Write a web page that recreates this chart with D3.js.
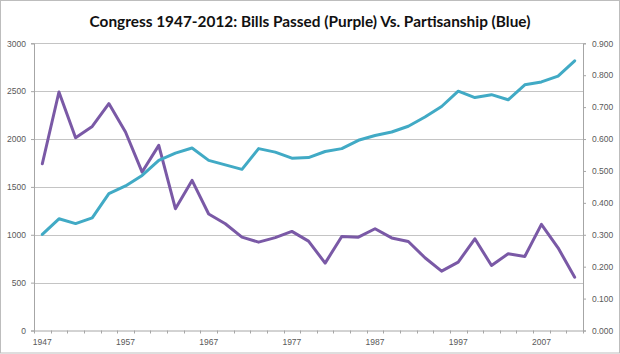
<!DOCTYPE html>
<html>
<head>
<meta charset="utf-8">
<script src="https://cdn.jsdelivr.net/npm/d3@7"></script>
<style>
  body { margin: 0; background: #fff; }
  svg { display: block; }
  .tick text { font-family: "Liberation Sans", Arial, sans-serif; font-size: 8.5px; fill: #595959; }
</style>
</head>
<body>
<div id="chart"></div>
<script>
const years = [1947, 1949, 1951, 1953, 1955, 1957, 1959, 1961, 1963, 1965, 1967,
  1969, 1971, 1973, 1975, 1977, 1979, 1981, 1983, 1985, 1987, 1989, 1991,
  1993, 1995, 1997, 1999, 2001, 2003, 2005, 2007, 2009, 2011];
const billsPassed = [1742, 2491, 2014, 2132, 2370, 2073, 1655, 1934, 1272, 1568, 1217,
  1115, 975, 923, 970, 1035, 934, 704, 982, 975, 1063, 967, 930,
  760, 620, 714, 958, 679, 801, 773, 1108, 864, 557];
const partisanship = [0.301, 0.350, 0.335, 0.353, 0.429, 0.453, 0.486, 0.533, 0.556, 0.572, 0.533,
  0.519, 0.505, 0.570, 0.559, 0.540, 0.542, 0.561, 0.570, 0.596, 0.611, 0.622, 0.640,
  0.669, 0.702, 0.750, 0.730, 0.739, 0.723, 0.770, 0.779, 0.797, 0.845];
const labelYears = [1947, 1957, 1967, 1977, 1987, 1997, 2007];
const leftTicks = [0, 500, 1000, 1500, 2000, 2500, 3000];
const rightTicks = [0, 0.1, 0.2, 0.3, 0.4, 0.5, 0.6, 0.7, 0.8, 0.9];
const title = "Congress 1947-2012: Bills Passed (Purple) Vs. Partisanship (Blue)";

const W = 620, H = 354;
const plot = { left: 34, right: 583, top: 43.3, bottom: 330.5 };

const svg = d3.select("#chart").append("svg")
  .attr("width", W)
  .attr("height", H);

svg.append("rect")
  .attr("x", 0.5).attr("y", 0.5)
  .attr("width", W - 1).attr("height", H - 1.5)
  .attr("fill", "#fff")
  .attr("stroke", "#bdbdbd");

const x = d3.scaleBand()
  .domain(years)
  .range([plot.left, plot.right]);

const yLeft = d3.scaleLinear()
  .domain([0, 3000])
  .range([plot.bottom, plot.top]);

const yRight = d3.scaleLinear()
  .domain([0, 0.9])
  .range([plot.bottom, plot.top]);

// gridlines
svg.append("g")
  .selectAll("line")
  .data(leftTicks.filter(d => d > 0))
  .enter().append("line")
  .attr("x1", plot.left).attr("x2", plot.right)
  .attr("y1", d => Math.round(yLeft(d)) + 0.5)
  .attr("y2", d => Math.round(yLeft(d)) + 0.5)
  .attr("stroke", "#c4c4c4")
  .attr("stroke-width", 1);

// left axis
const leftAxis = svg.append("g")
  .attr("transform", `translate(${plot.left},0)`)
  .call(d3.axisLeft(yLeft).tickValues(leftTicks).tickSize(3).tickPadding(5).tickFormat(d3.format("d")));

// right axis
const rightAxis = svg.append("g")
  .attr("transform", `translate(${plot.right},0)`)
  .call(d3.axisRight(yRight).tickValues(rightTicks).tickSize(3).tickPadding(6).tickFormat(d3.format(".3f")));

// bottom axis: labels every fifth congress
const bottomAxis = svg.append("g")
  .attr("transform", `translate(0,${plot.bottom})`)
  .call(d3.axisBottom(x).tickValues(labelYears).tickSize(0).tickPadding(8));

// tick marks between categories
const bounds = years.map(d => x(d)).concat([x(years[years.length - 1]) + x.bandwidth()]);
svg.append("g")
  .selectAll("line")
  .data(bounds)
  .enter().append("line")
  .attr("x1", d => Math.round(d) + 0.5).attr("x2", d => Math.round(d) + 0.5)
  .attr("y1", plot.bottom).attr("y2", plot.bottom + 3)
  .attr("stroke", "#a6a6a6");

[leftAxis, rightAxis, bottomAxis].forEach(g => {
  g.select(".domain").attr("stroke", "#a6a6a6");
  g.selectAll(".tick line").attr("stroke", "#a6a6a6");
});

// lines
const cx = d => x(d) + x.bandwidth() / 2;

svg.append("path")
  .datum(years.map((d, i) => [d, billsPassed[i]]))
  .attr("fill", "none")
  .attr("stroke", "#7a59a6")
  .attr("stroke-width", 3)
  .attr("stroke-linejoin", "round")
  .attr("stroke-linecap", "round")
  .attr("d", d3.line().x(d => cx(d[0])).y(d => yLeft(d[1])));

svg.append("path")
  .datum(years.map((d, i) => [d, partisanship[i]]))
  .attr("fill", "none")
  .attr("stroke", "#41aac5")
  .attr("stroke-width", 3)
  .attr("stroke-linejoin", "round")
  .attr("stroke-linecap", "round")
  .attr("d", d3.line().x(d => cx(d[0])).y(d => yRight(d[1])));

// title
const t = svg.append("text")
  .attr("x", 310)
  .attr("y", 27)
  .attr("text-anchor", "middle")
  .attr("font-family", "Lato, 'Open Sans', sans-serif")
  .attr("font-weight", "bold")
  .attr("font-size", 15)
  .attr("fill", "#111")
  .text(title);
const len = t.node().getComputedTextLength();
t.attr("font-size", (15 * 441 / len).toFixed(2));
</script>
</body>
</html>
